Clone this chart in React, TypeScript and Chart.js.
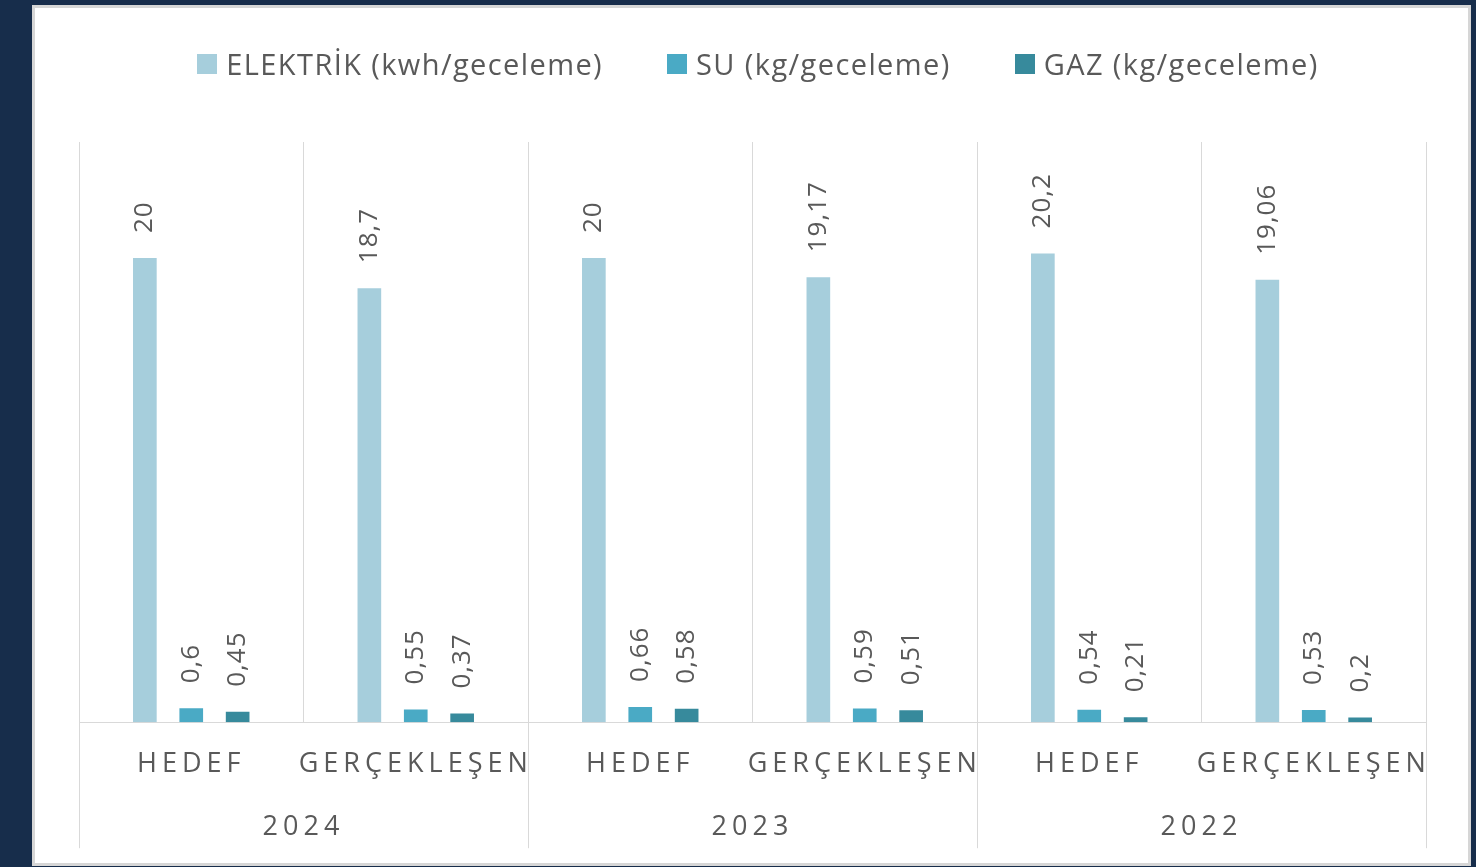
import { useEffect, useRef } from 'react';
import { Chart, registerables } from 'chart.js';

Chart.register(...registerables);

// ---- data ----
const categories = ['HEDEF', 'GERÇEKLEŞEN', 'HEDEF', 'GERÇEKLEŞEN', 'HEDEF', 'GERÇEKLEŞEN'];
const years = ['2024', '2023', '2022'];
const seriesNames = ['ELEKTRİK (kwh/geceleme)', 'SU (kg/geceleme)', 'GAZ (kg/geceleme)'];
const elektrik = [20, 18.7, 20, 19.17, 20.2, 19.06];
const su = [0.6, 0.55, 0.66, 0.59, 0.54, 0.53];
const gaz = [0.45, 0.37, 0.58, 0.51, 0.21, 0.2];
const yMax = 25;

const seriesColors = ['#a6cedc', '#4aaac5', '#378a9c'];
const TEXT = '#595959';
const GRID = '#d9d9d9';
const FONT = '"Open Sans", "DejaVu Sans", sans-serif';

const fmt = (v: number) => String(v).replace('.', ',');

const spacingPlugin = {
  id: 'spacing',
  beforeDraw(chart: any) {
    chart.ctx.letterSpacing = '5px';
  },
};

const separatorPlugin = {
  id: 'separators',
  afterDraw(chart: any) {
    const ctx = chart.ctx;
    const xs = chart.scales.x;
    const bottom = chart.chartArea.bottom;
    const per = categories.length / years.length;
    ctx.save();
    ctx.strokeStyle = GRID;
    ctx.lineWidth = 1;
    for (let k = 0; k <= years.length; k++) {
      const px = Math.round(xs.getPixelForValue(k * per - 0.5)) + 0.5;
      ctx.beginPath();
      ctx.moveTo(px, bottom);
      ctx.lineTo(px, bottom + 126);
      ctx.stroke();
    }
    ctx.restore();
  },
};

const dataLabelPlugin = {
  id: 'dataLabels',
  afterDatasetsDraw(chart: any) {
    const ctx = chart.ctx;
    ctx.save();
    ctx.font = `26px ${FONT}`;
    ctx.fillStyle = TEXT;
    ctx.letterSpacing = '1px';
    ctx.textAlign = 'left';
    ctx.textBaseline = 'middle';
    chart.data.datasets.forEach((ds: any, di: number) => {
      const meta = chart.getDatasetMeta(di);
      meta.data.forEach((bar: any, i: number) => {
        ctx.save();
        ctx.translate(bar.x, bar.y - 25);
        ctx.rotate(-Math.PI / 2);
        ctx.fillText(fmt(ds.data[i]), 0, 0);
        ctx.restore();
      });
    });
    ctx.restore();
  },
};

export default function App() {
  const canvasRef = useRef<HTMLCanvasElement | null>(null);

  useEffect(() => {
    if (!canvasRef.current) return;
    const chart = new Chart(canvasRef.current, {
      type: 'bar',
      data: {
        labels: categories,
        datasets: [elektrik, su, gaz].map((d, i) => ({
          label: seriesNames[i],
          data: d,
          backgroundColor: seriesColors[i],
          borderWidth: 0,
          categoryPercentage: 0.62,
          barPercentage: 0.51,
        })),
      },
      options: {
        animation: false,
        responsive: false,
        devicePixelRatio: 1,
        layout: { padding: { left: 44, right: 42, top: 134, bottom: 14 } },
        plugins: {
          legend: { display: false },
          tooltip: { enabled: false },
        },
        scales: {
          x: {
            type: 'category',
            offset: true,
            grid: { display: true, offset: true, color: GRID, lineWidth: 1, drawTicks: false },
            border: { display: true, color: GRID, width: 1 },
            ticks: {
              autoSkip: false,
              maxRotation: 0,
              minRotation: 0,
              padding: 26,
              color: TEXT,
              font: { family: FONT, size: 27 },
            },
          },
          x2: {
            type: 'category',
            labels: years,
            position: 'bottom',
            offset: true,
            grid: { display: false, drawTicks: false },
            border: { display: false },
            ticks: {
              autoSkip: false,
              maxRotation: 0,
              minRotation: 0,
              padding: 5,
              color: TEXT,
              font: { family: FONT, size: 27 },
            },
          },
          y: {
            display: false,
            min: 0,
            max: yMax,
            grid: { display: false },
          },
        },
      },
      plugins: [spacingPlugin, separatorPlugin, dataLabelPlugin],
    } as any);
    return () => chart.destroy();
  }, []);

  return (
    <div style={{ position: 'fixed', left: 0, top: 0, width: 1476, height: 867, background: '#172d4b', overflow: 'hidden' }}>
      <div
        style={{
          position: 'absolute',
          left: 32,
          top: 5,
          width: 1439,
          height: 861,
          boxSizing: 'border-box',
          background: '#ffffff',
          border: '3px solid #d6d6d6',
        }}
      >
        <canvas ref={canvasRef} width={1433} height={855} style={{ position: 'absolute', left: 0, top: 0, display: 'block' }} />
        <div
          style={{
            position: 'absolute',
            left: 0,
            right: 0,
            top: 36,
            paddingLeft: 13,
            display: 'flex',
            justifyContent: 'center',
            gap: 64,
            fontFamily: FONT,
            fontSize: 29,
            lineHeight: '40px',
            letterSpacing: '1.4px',
            color: TEXT,
            whiteSpace: 'nowrap',
          }}
        >
          {seriesNames.map((n, i) => (
            <div key={n} style={{ display: 'flex', alignItems: 'center' }}>
              <span style={{ display: 'inline-block', width: 20, height: 20, background: seriesColors[i], marginRight: 9 }} />
              <span>{n}</span>
            </div>
          ))}
        </div>
      </div>
    </div>
  );
}
